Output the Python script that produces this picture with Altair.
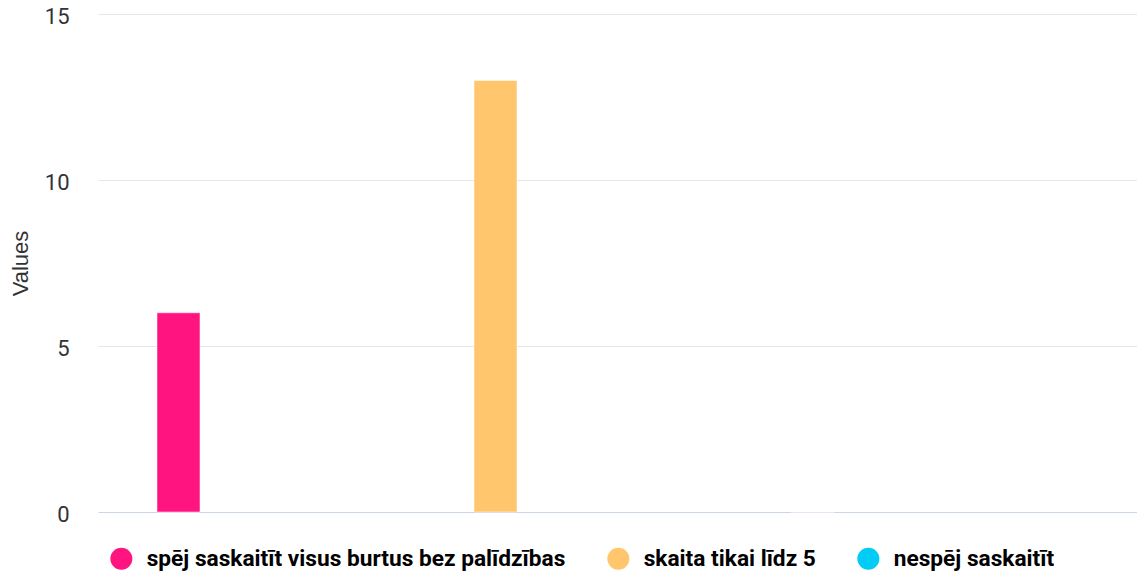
import altair as alt
import pandas as pd

series = ["spēj saskaitīt visus burtus bez palīdzības", "skaita tikai līdz 5", "nespēj saskaitīt"]
values = [6, 13, 0]
colors = ["#ff1480", "#ffc66e", "#00ccf5"]
y_ticks = [0, 5, 10, 15]

df = pd.DataFrame({"series": series, "value": values})

chart = alt.Chart(df).mark_bar(stroke="white", strokeWidth=0.5).encode(
    x=alt.X(
        "series:N", sort=series, title=None,
        scale=alt.Scale(paddingInner=0.8644, paddingOuter=0.571, align=0.163),
        axis=alt.Axis(labels=False, ticks=False, domain=True, domainColor="#ccd6eb",
                      domainWidth=1, grid=False),
    ),
    y=alt.Y(
        "value:Q", title="Values", scale=alt.Scale(domain=[0, 15], nice=False),
        axis=alt.Axis(values=y_ticks, grid=True, gridColor="#e6e6e6", domain=False,
                      ticks=False, tickSize=0, labelFontSize=22, labelFont="Roboto",
                      labelColor="#333333", labelPadding=29, labelOffset=2,
                      titleFontSize=22, titleFont="Liberation Sans", titleFontWeight="normal",
                      titleColor="#333333", titleX=-71, titleY=249, titleAngle=-90,
                      titleBaseline="alphabetic", titleAlign="center"),
    ),
    color=alt.Color(
        "series:N", sort=series, scale=alt.Scale(domain=series, range=colors),
        legend=alt.Legend(orient="none", legendX=12, legendY=533, direction="horizontal",
                          title=None, symbolType="circle", symbolSize=484,
                          labelFont="Roboto", labelFontSize=22.7, labelFontWeight="bold",
                          labelColor="#000000", labelOffset=14, columnPadding=41,
                          labelLimit=1000, symbolStrokeWidth=0, symbolOpacity=1, padding=0),
    ),
).properties(
    width=1039, height=498,
    padding={"left": 90, "top": 6, "right": 0, "bottom": 59},
    autosize=alt.AutoSizeParams(type="none"),
).configure_view(stroke=None)

chart.save("out.html", embed_options={"renderer": "svg", "actions": False})
